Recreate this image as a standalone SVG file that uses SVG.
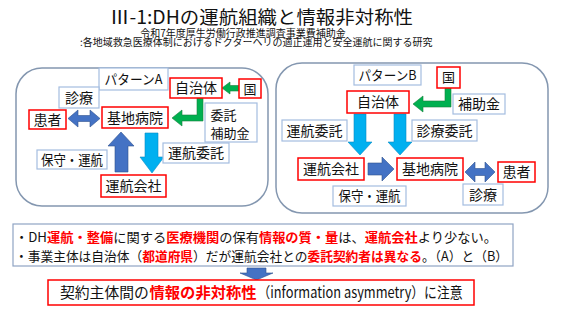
<svg xmlns="http://www.w3.org/2000/svg" width="569" height="320" viewBox="0 0 569 320">
<style>
text{font-family:"Noto Sans CJK JP","Liberation Sans",sans-serif;fill:#111;}
.panel{fill:#fff;stroke:#8497b0;stroke-width:1.5;}
.rb{fill:#fff;stroke:#ff0000;stroke-width:1.5;}
.lb{fill:#fff;stroke:#a4bde0;stroke-width:1.2;}
.t14{font-size:14px;text-anchor:middle;}
.t13{font-size:13px;text-anchor:middle;}
.green{fill:#00b050;stroke:#1a7f3c;stroke-width:0.6;}
.blue{fill:#4472c4;stroke:#2f528f;stroke-width:0.6;}
.sky{fill:#00b0f0;stroke:#0a8cc4;stroke-width:0.6;}
.red{fill:#ff0000;font-weight:bold;}
</style>
<rect width="569" height="320" fill="#fff"/>
<g id="title">
<text x="261.5" y="24" font-size="18.5" text-anchor="middle" textLength="303" lengthAdjust="spacingAndGlyphs">Ⅲ-1:DHの運航組織と情報非対称性</text>
<text font-size="10"><tspan x="243" y="36.5" text-anchor="middle" font-size="10">令和7年度厚生労働行政推進調査事業費補助金</tspan><tspan x="80" y="46" font-size="10">:各地域救急医療体制におけるドクターヘリの適正運用と安全運航に関する研究</tspan></text>
</g>
<g id="panelA"><rect class="panel" x="16" y="68" width="252" height="138" rx="26"/></g>
<g id="panelB"><rect class="panel" x="276" y="63" width="272" height="150" rx="26"/></g>
<g id="connectors">
<polygon class="green" points="222,88 230,82 230,85.5 239,85.5 239,91 230,91 230,94"/>
<polygon class="green" points="203,98 203,121 182,121 182,126 172,118 182,110 182,115 197,115 197,98"/>
<polygon class="blue" points="68,118.5 78,110 78,115.5 90,115.5 90,110 100,118.5 90,127 90,121.5 78,121.5 78,127"/>
<polygon class="blue" points="121,132 134,146 128,146 128,172 115,172 115,146 108,146"/>
<polygon class="sky" points="145,133 158,133 158,157 164,157 152,173 140,157 145,157"/>
<polygon class="green" points="451,88 451,107 423,107 423,112 413,104 423,96 423,101 445,101 445,88"/>
<polygon class="sky" points="354,114 366,114 366,142 372,142 360,155 348,142 354,142"/>
<polygon class="sky" points="394,114 406,114 406,142 412,142 400,155 388,142 394,142"/>
<polygon class="blue" points="368,163 382,163 382,157 394,169 382,181 382,175 368,175"/>
<polygon class="blue" points="465,172 475,162 475,168.5 485,168.5 485,162 495,172 485,182 485,175.5 475,175.5 475,182"/>
<polygon class="blue" points="247,268 266,268 266,273 273,273 256.5,280 240,273 247,273"/>
</g>
<g id="patternA"><rect class="lb" x="99" y="68" width="69" height="22"/><text class="t13" x="133.5" y="84" textLength="58" lengthAdjust="spacingAndGlyphs">パターンA</text></g>
<g id="A_jichitai"><rect class="rb" x="170" y="78" width="52" height="20"/><text class="t14" x="196" y="93">自治体</text></g>
<g id="A_kuni"><rect class="rb" x="239" y="79" width="22" height="19"/><text class="t13" x="250" y="93.5">国</text></g>
<g id="A_itaku"><rect class="lb" x="205" y="103" width="52" height="39"/><text x="210.5" y="119.5" font-size="13">委託</text><text x="210.5" y="137.5" font-size="13">補助金</text></g>
<g id="A_kichi"><rect class="rb" x="102" y="107" width="66" height="21"/><text class="t14" x="135" y="123">基地病院</text></g>
<g id="A_kanja"><rect class="rb" x="29" y="110" width="37" height="19"/><text class="t14" x="47.5" y="124.5">患者</text></g>
<g id="A_shinryo"><rect class="lb" x="59" y="87" width="40" height="21"/><text class="t14" x="79" y="102.5">診療</text></g>
<g id="A_unkoitaku"><rect class="lb" x="163" y="143" width="66" height="20"/><text class="t14" x="196" y="158">運航委託</text></g>
<g id="A_hoshu"><rect class="lb" x="37" y="150" width="70" height="19"/><text class="t14" x="72" y="164.5" textLength="62" lengthAdjust="spacingAndGlyphs">保守・運航</text></g>
<g id="A_unkokaisha"><rect class="rb" x="101" y="175" width="65" height="22"/><text class="t14" x="133.5" y="191">運航会社</text></g>
<g id="patternB"><rect class="lb" x="354" y="65" width="67" height="20"/><text class="t13" x="387.5" y="80" textLength="58" lengthAdjust="spacingAndGlyphs">パターンB</text></g>
<g id="B_kuni"><rect class="rb" x="437" y="67" width="23" height="21"/><text class="t13" x="448.5" y="82">国</text></g>
<g id="B_hojokin"><rect class="lb" x="453" y="94" width="52" height="20"/><text class="t14" x="479" y="109">補助金</text></g>
<g id="B_jichitai"><rect class="rb" x="347" y="91" width="62" height="22"/><text class="t14" x="378" y="107">自治体</text></g>
<g id="B_unkoitaku"><rect class="lb" x="282" y="120" width="65" height="21"/><text class="t14" x="314.5" y="136">運航委託</text></g>
<g id="B_shinryoitaku"><rect class="lb" x="412" y="120" width="65" height="21"/><text class="t14" x="444.5" y="136">診療委託</text></g>
<g id="B_unkokaisha"><rect class="rb" x="298" y="158" width="66" height="22"/><text class="t14" x="331" y="174">運航会社</text></g>
<g id="B_kichi"><rect class="rb" x="397" y="158" width="66" height="22"/><text class="t14" x="430" y="174">基地病院</text></g>
<g id="B_kanja"><rect class="rb" x="498" y="162" width="37" height="20"/><text class="t14" x="516.5" y="177">患者</text></g>
<g id="B_hoshu"><rect class="lb" x="333" y="186" width="73" height="20"/><text class="t14" x="369.5" y="201" textLength="62" lengthAdjust="spacingAndGlyphs">保守・運航</text></g>
<g id="B_shinryo"><rect class="lb" x="463" y="184" width="40" height="21"/><text class="t14" x="483" y="199.5">診療</text></g>
<g id="note">
<rect x="13" y="224" width="500" height="42" fill="#fff" stroke="#8fa4c4" stroke-width="1.2"/>
<text x="15" y="241.5" font-size="13" textLength="482" lengthAdjust="spacingAndGlyphs">・DH<tspan class="red">運航・整備</tspan>に関する<tspan class="red">医療機関</tspan>の保有<tspan class="red">情報の質・量</tspan>は、<tspan class="red">運航会社</tspan>より少ない。</text>
<text x="15" y="261" font-size="13" textLength="493" lengthAdjust="spacingAndGlyphs">・事業主体は自治体（<tspan class="red">都道府県</tspan>）だが運航会社との<tspan class="red">委託契約者は異なる</tspan>。（A）と（B）</text>
</g>
<g id="conclusion">
<rect x="48" y="280" width="426" height="25" fill="#fff" stroke="#ff0000" stroke-width="1.5"/>
<text x="60" y="298" font-size="14.8">契約主体間の</text>
<text x="149.5" y="298" font-size="15.3" class="red">情報の非対称性</text>
<text x="257.5" y="298" font-size="15" textLength="205" lengthAdjust="spacingAndGlyphs">（information asymmetry）に注意</text>
</g>
</svg>
